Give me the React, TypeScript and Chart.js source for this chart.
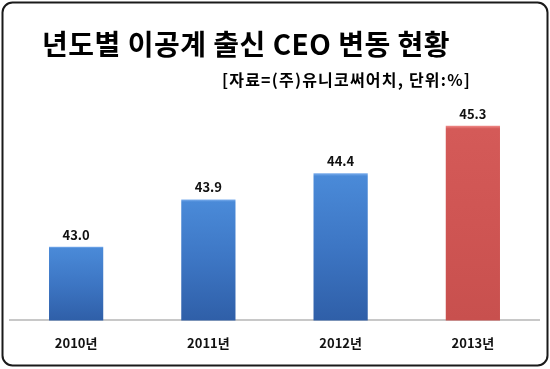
import React, { useEffect, useRef } from "react";
import { Chart, registerables } from "chart.js";

Chart.register(...registerables);

const titleText = "년도별 이공계 출신 CEO 변동 현황";
const subtitleText = "[자료=(주)유니코써어치, 단위:%]";
const categories = ["2010년", "2011년", "2012년", "2013년"];
const values = [43.0, 43.9, 44.4, 45.3];
const valueLabels = ["43.0", "43.9", "44.4", "45.3"];
const highlightIndex = 3;

const FONT = "'Noto Sans CJK KR', 'Noto Sans', sans-serif";

const framePlugin = {
  id: "frame",
  beforeDraw(chart: any) {
    const ctx = chart.ctx;
    ctx.save();
    ctx.fillStyle = "#ffffff";
    ctx.fillRect(0, 0, chart.width, chart.height);
    ctx.beginPath();
    (ctx as any).roundRect(2.5, 2.5, 545, 363, 10);
    ctx.lineWidth = 2;
    ctx.strokeStyle = "#1a1a1a";
    ctx.stroke();
    ctx.fillStyle = "#000000";
    ctx.textBaseline = "middle";
    ctx.textAlign = "left";
    ctx.font = `bold 28px ${FONT}`;
    (ctx as any).letterSpacing = "0.5px";
    ctx.fillText(titleText, 42, 44);
    ctx.textAlign = "right";
    ctx.font = `bold 16px ${FONT}`;
    (ctx as any).letterSpacing = "1.2px";
    ctx.fillText(subtitleText, 471, 80);
    (ctx as any).letterSpacing = "0px";
    ctx.restore();
  },
};

const valueLabelPlugin = {
  id: "valueLabels",
  afterDatasetsDraw(chart: any) {
    const ctx = chart.ctx;
    const meta = chart.getDatasetMeta(0);
    ctx.save();
    ctx.fillStyle = "#111111";
    ctx.font = `bold 13px ${FONT}`;
    ctx.textAlign = "center";
    ctx.textBaseline = "middle";
    meta.data.forEach((el: any, i: number) => {
      ctx.fillText(valueLabels[i], el.x, el.y - 12);
    });
    ctx.restore();
  },
};

function barFill(context: any) {
  const chart = context.chart;
  const ys = chart.scales && chart.scales.y;
  const idx = context.dataIndex;
  const isRed = idx === highlightIndex;
  if (!ys || !chart.chartArea || idx === undefined) {
    return isRed ? "#cf5553" : "#3f78c8";
  }
  const top = ys.getPixelForValue(values[idx]);
  const bottom = ys.getPixelForValue(ys.min);
  const g = chart.ctx.createLinearGradient(0, top, 0, bottom);
  if (isRed) {
    g.addColorStop(0, "#f08a88");
    g.addColorStop(0.015, "#d45a58");
    g.addColorStop(0.5, "#cf5553");
    g.addColorStop(1, "#c8504e");
  } else {
    g.addColorStop(0, "#7fb0ee");
    g.addColorStop(0.02, "#4a8ad8");
    g.addColorStop(0.5, "#3d76c4");
    g.addColorStop(1, "#2f5fa8");
  }
  return g;
}

export default function App() {
  const ref = useRef<HTMLCanvasElement | null>(null);
  useEffect(() => {
    if (!ref.current) return;
    const chart = new Chart(ref.current, {
      type: "bar",
      data: {
        labels: categories,
        datasets: [
          {
            data: values,
            backgroundColor: barFill,
            borderWidth: 0,
            categoryPercentage: 1,
            barPercentage: 0.41,
          },
        ],
      },
      options: {
        animation: false,
        responsive: false,
        maintainAspectRatio: false,
        layout: { padding: { left: 10, right: 11, top: 89, bottom: 3 } },
        plugins: {
          legend: { display: false },
          title: { display: false },
          tooltip: { enabled: false },
        },
        scales: {
          x: {
            grid: { display: false, drawTicks: false },
            border: { display: true, color: "#c8c8c8", width: 2 },
            ticks: {
              padding: 15,
              color: "#111111",
              font: { family: FONT, size: 13, weight: "bold" },
            },
          },
          y: {
            display: false,
            min: 41.6,
            max: 46,
          },
        },
      },
      plugins: [framePlugin, valueLabelPlugin],
    });
    return () => chart.destroy();
  }, []);
  return (
    <div style={{ position: "absolute", left: 0, top: 0, width: 550, height: 369 }}>
      <canvas ref={ref} width={550} height={369} style={{ display: "block" }} />
    </div>
  );
}
